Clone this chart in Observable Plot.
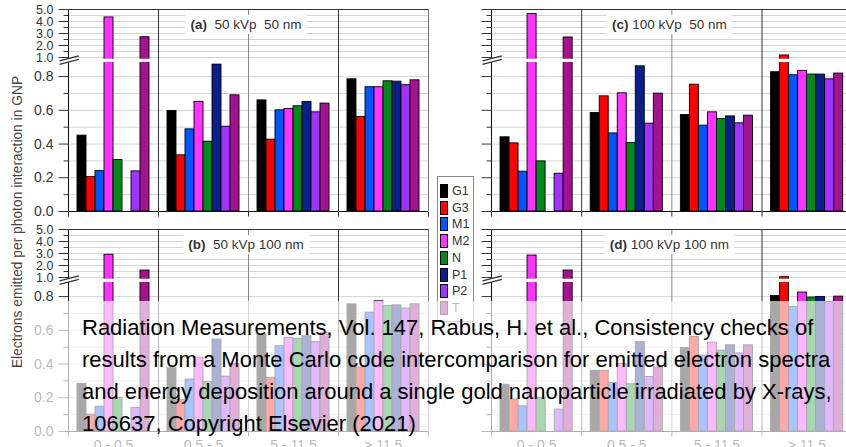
<!DOCTYPE html>
<html><head><meta charset="utf-8">
<script src="https://cdn.jsdelivr.net/npm/d3@7"></script>
<script src="https://cdn.jsdelivr.net/npm/@observablehq/plot@0.6"></script>
<style>
html,body{margin:0;padding:0;background:#fff;}
#wrap{position:relative;width:846px;height:447px;overflow:hidden;background:#fff;font-family:Arial,"Liberation Sans",sans-serif;}
.panel{position:absolute;width:430px;}
.panel svg{max-width:none !important;overflow:visible;}
.plabel{position:absolute;background:#fff;font-size:13.5px;color:#333;white-space:pre;line-height:19px;height:19px;padding:0 5px;transform:translateX(-50%);}
.plabel b{font-weight:bold;}
#legend{position:absolute;left:437px;top:176px;width:37px;height:146px;border:1px solid #8a8a8a;background:#fff;box-sizing:border-box;}
.sw{position:absolute;left:2px;width:6px;height:12px;border:1px solid #000;}
.lt{position:absolute;left:14px;font-size:12.5px;color:#333;line-height:14px;}
#ytitle{position:absolute;left:-132px;top:214px;width:300px;height:16px;line-height:16px;text-align:center;font-size:13.8px;color:#444;transform:rotate(-90deg);white-space:nowrap;}
#overlay{position:absolute;left:22px;top:301px;right:0;bottom:0;background:rgba(255,255,255,0.66);}
#cite{position:absolute;left:82px;top:312px;font-size:22px;line-height:32px;color:#000;white-space:pre;}
</style></head><body><div id="wrap"></div>
<script>
// ---- data ----
const groups = ["0 - 0.5", "0.5 - 5", "5 - 11.5", "\u2265 11.5"];
const codes = ["G1", "G3", "M1", "M2", "N", "P1", "P2", "T"];
const colors = ["#000000", "#ff0000", "#0055ff", "#ff33ff", "#008a1c", "#0a1e8c", "#a033ff", "#a5128f"];

// each row: one energy group, values in the order of `codes` (null = no result)
const panelA = [ // (a) 50 kVp 50 nm
  [0.45, 0.204, 0.24, 4.34, 0.305, null, 0.238, 2.69],
  [0.596, 0.333, 0.487, 0.65, 0.414, 0.871, 0.503, 0.689],
  [0.659, 0.426, 0.60, 0.608, 0.624, 0.65, 0.588, 0.64],
  [0.784, 0.56, 0.737, 0.737, 0.772, 0.77, 0.749, 0.778]
];
const panelB = [ // (b) 50 kVp 100 nm
  [0.283, 0.10, 0.147, 2.89, 0.20, null, 0.139, 1.58],
  [0.375, 0.187, 0.308, 0.438, 0.292, 0.545, 0.325, 0.40],
  [0.575, 0.317, 0.506, 0.555, 0.55, 0.565, 0.53, 0.583],
  [0.754, 0.38, 0.705, 0.772, 0.745, 0.748, 0.729, 0.754]
];
const panelC = [ // (c) 100 kVp 50 nm
  [0.44, 0.404, 0.236, 4.63, 0.297, null, 0.224, 2.67],
  [0.584, 0.683, 0.463, 0.701, 0.406, 0.861, 0.521, 0.699],
  [0.572, 0.752, 0.509, 0.588, 0.549, 0.564, 0.523, 0.568],
  [0.826, 1.17, 0.808, 0.834, 0.812, 0.812, 0.784, 0.818]
];
const panelD = [ // (d) 100 kVp 100 nm
  [0.277, 0.19, 0.149, 2.83, 0.20, null, 0.13, 1.58],
  [0.36, 0.36, 0.288, 0.40, 0.28, 0.53, 0.323, 0.38],
  [0.495, 0.56, 0.45, 0.527, 0.48, 0.511, 0.463, 0.511],
  [0.804, 1.03, 0.739, 0.824, 0.794, 0.798, 0.768, 0.80]
];
const panelTags = ["(a)", "(b)", "(c)", "(d)"];
const panelNames = [" 50 kVp  50 nm", " 50 kVp 100 nm", "100 kVp  50 nm", "100 kVp 100 nm"];

const lowerTicks = [0, 0.2, 0.4, 0.6, 0.8];
const upperTicks = [1, 2, 3, 4, 5];
const minorTicks = [0.1, 0.3, 0.5, 0.7, 1.5, 2.5, 3.5, 4.5];
const gridValues = [0.1, 0.2, 0.3, 0.4, 0.5, 0.6, 0.7, 0.8, 1, 1.5, 2, 2.5, 3, 3.5, 4, 4.5];
const boundaries = [0, 10, 20, 30, 40];

const citeLines = [
  "Radiation Measurements, Vol. 147, Rabus, H. et al., Consistency checks of",
  "results from a Monte Carlo code intercomparison for emitted electron spectra",
  "and energy deposition around a single gold nanoparticle irradiated by X-rays,",
  "106637, Copyright Elsevier (2021)"
];
const yTitle = "Electrons emitted per photon interaction in GNP";

// ---- broken y axis: 0–0.88 linear, short gap, 1–5 compressed ----
const LOW = 168.6, LOWTOP = 0.88, GAP = 5.6, UP = 12;
const yb = v => v <= LOWTOP ? v * LOW
  : v <= 1 ? LOWTOP * LOW + (v - LOWTOP) / (1 - LOWTOP) * GAP
  : LOWTOP * LOW + GAP + (v - 1) * UP;
const yTop = yb(5);
const fmt = d3.format(".1f");

// ---- drawing ----
const wrap = document.getElementById("wrap");
const slot = d => d.gi * 10 + 1 + d.si;

function panel(values, idx, opt) {
  const rows = [];
  values.forEach((arr, gi) => arr.forEach((v, si) => {
    if (v != null) rows.push({gi, si, code: codes[si], value: v});
  }));
  const brk = LOWTOP * LOW + GAP / 2;
  const marks = [
    Plot.ruleY(gridValues, {y: yb, stroke: "#d6d6d6", strokeWidth: 1}),
    Plot.rect(rows, {x1: slot, x2: d => slot(d) + 1, y1: 0, y2: d => yb(d.value), fill: "code", stroke: "#000", strokeWidth: 0.9}),
    Plot.ruleX([0], {y1: 0, y2: yTop, stroke: "#111"}),
    Plot.ruleY([brk], {x1: -0.3, x2: 40, stroke: "#fff", strokeWidth: 3.2}),
    Plot.ruleX([10, 20, 30], {y1: 0, y2: yTop, stroke: d => d === 20 ? "#888" : "#333"}),
    Plot.ruleX([40], {y1: 0, y2: yTop, stroke: "#777"}),
    Plot.ruleY([yTop], {x1: 0, x2: 40, stroke: "#333"}),
    Plot.ruleY([0], {x1: 0, x2: 40, stroke: "#111"}),
    Plot.link([brk - 4, brk - 0.5], {x1: -1, x2: 1.15, y1: d => d, y2: d => d + 5, stroke: "#333", strokeWidth: 1.2}),
    Plot.link([...lowerTicks, ...upperTicks], {x1: -1.1, x2: 0, y1: yb, y2: yb, stroke: "#333"}),
    Plot.link(minorTicks, {x1: -0.55, x2: 0, y1: yb, y2: yb, stroke: "#333"}),
    Plot.link(boundaries, {x1: d => d, x2: d => d, y1: 0, y2: -5, stroke: "#333"})
  ];
  if (opt.yLabels) {
    marks.push(Plot.text(lowerTicks, {x: 0, y: yb, dx: -15, text: fmt, textAnchor: "end", fill: "#333", fontSize: 14}));
    marks.push(Plot.text(upperTicks, {x: 0, y: yb, dx: -15, text: fmt, textAnchor: "end", fill: "#333", fontSize: 12.5}));
  }
  if (opt.groupLabels) {
    marks.push(Plot.text(groups, {x: (d, i) => i * 10 + 5, y: 0, dy: 14, text: d => d, fill: "#333", fontSize: 14}));
  }
  const svg = Plot.plot({
    width: 430, height: opt.height,
    marginLeft: opt.ml, marginRight: 430 - opt.ml - opt.pw, marginTop: 9, marginBottom: opt.height - 211,
    x: {domain: [0, 40], axis: null},
    y: {domain: [0, yTop], range: [211, 9], axis: null},
    color: {domain: codes, range: colors},
    style: {fontFamily: "Arial, 'Liberation Sans', sans-serif", fontSize: "14px", color: "#333", background: "transparent", overflow: "visible", maxWidth: "none"},
    marks
  });
  const div = document.createElement("div");
  div.className = "panel";
  div.style.left = opt.left + "px";
  div.style.top = opt.top + "px";
  div.appendChild(svg);
  wrap.appendChild(div);
  const lab = document.createElement("div");
  lab.className = "plabel";
  lab.innerHTML = "<b>" + panelTags[idx] + "</b> " + panelNames[idx];
  lab.style.left = (opt.left + opt.ml + opt.pw / 2 - 2) + "px";
  lab.style.top = (opt.top + 15) + "px";
  wrap.appendChild(lab);
}

panel(panelA, 0, {left: 0, top: 0, height: 220, ml: 68, pw: 360, yLabels: true, groupLabels: false});
panel(panelB, 1, {left: 0, top: 220, height: 227, ml: 68, pw: 360, yLabels: true, groupLabels: true});
panel(panelC, 2, {left: 430, top: 0, height: 220, ml: 61, pw: 360.7, yLabels: false, groupLabels: false});
panel(panelD, 3, {left: 430, top: 220, height: 227, ml: 61, pw: 360.7, yLabels: false, groupLabels: true});

// legend
const leg = document.createElement("div");
leg.id = "legend";
codes.forEach((c, i) => {
  const sw = document.createElement("div");
  sw.className = "sw";
  sw.style.top = (7 + i * 16.7) + "px";
  sw.style.background = colors[i];
  leg.appendChild(sw);
  const t = document.createElement("div");
  t.className = "lt";
  t.style.top = (7 + i * 16.7) + "px";
  t.textContent = c;
  leg.appendChild(t);
});
wrap.appendChild(leg);

const yt = document.createElement("div");
yt.id = "ytitle";
yt.textContent = yTitle;
wrap.appendChild(yt);

const ov = document.createElement("div");
ov.id = "overlay";
wrap.appendChild(ov);
const cite = document.createElement("div");
cite.id = "cite";
cite.textContent = citeLines.join("\n");
wrap.appendChild(cite);
</script></body></html>
